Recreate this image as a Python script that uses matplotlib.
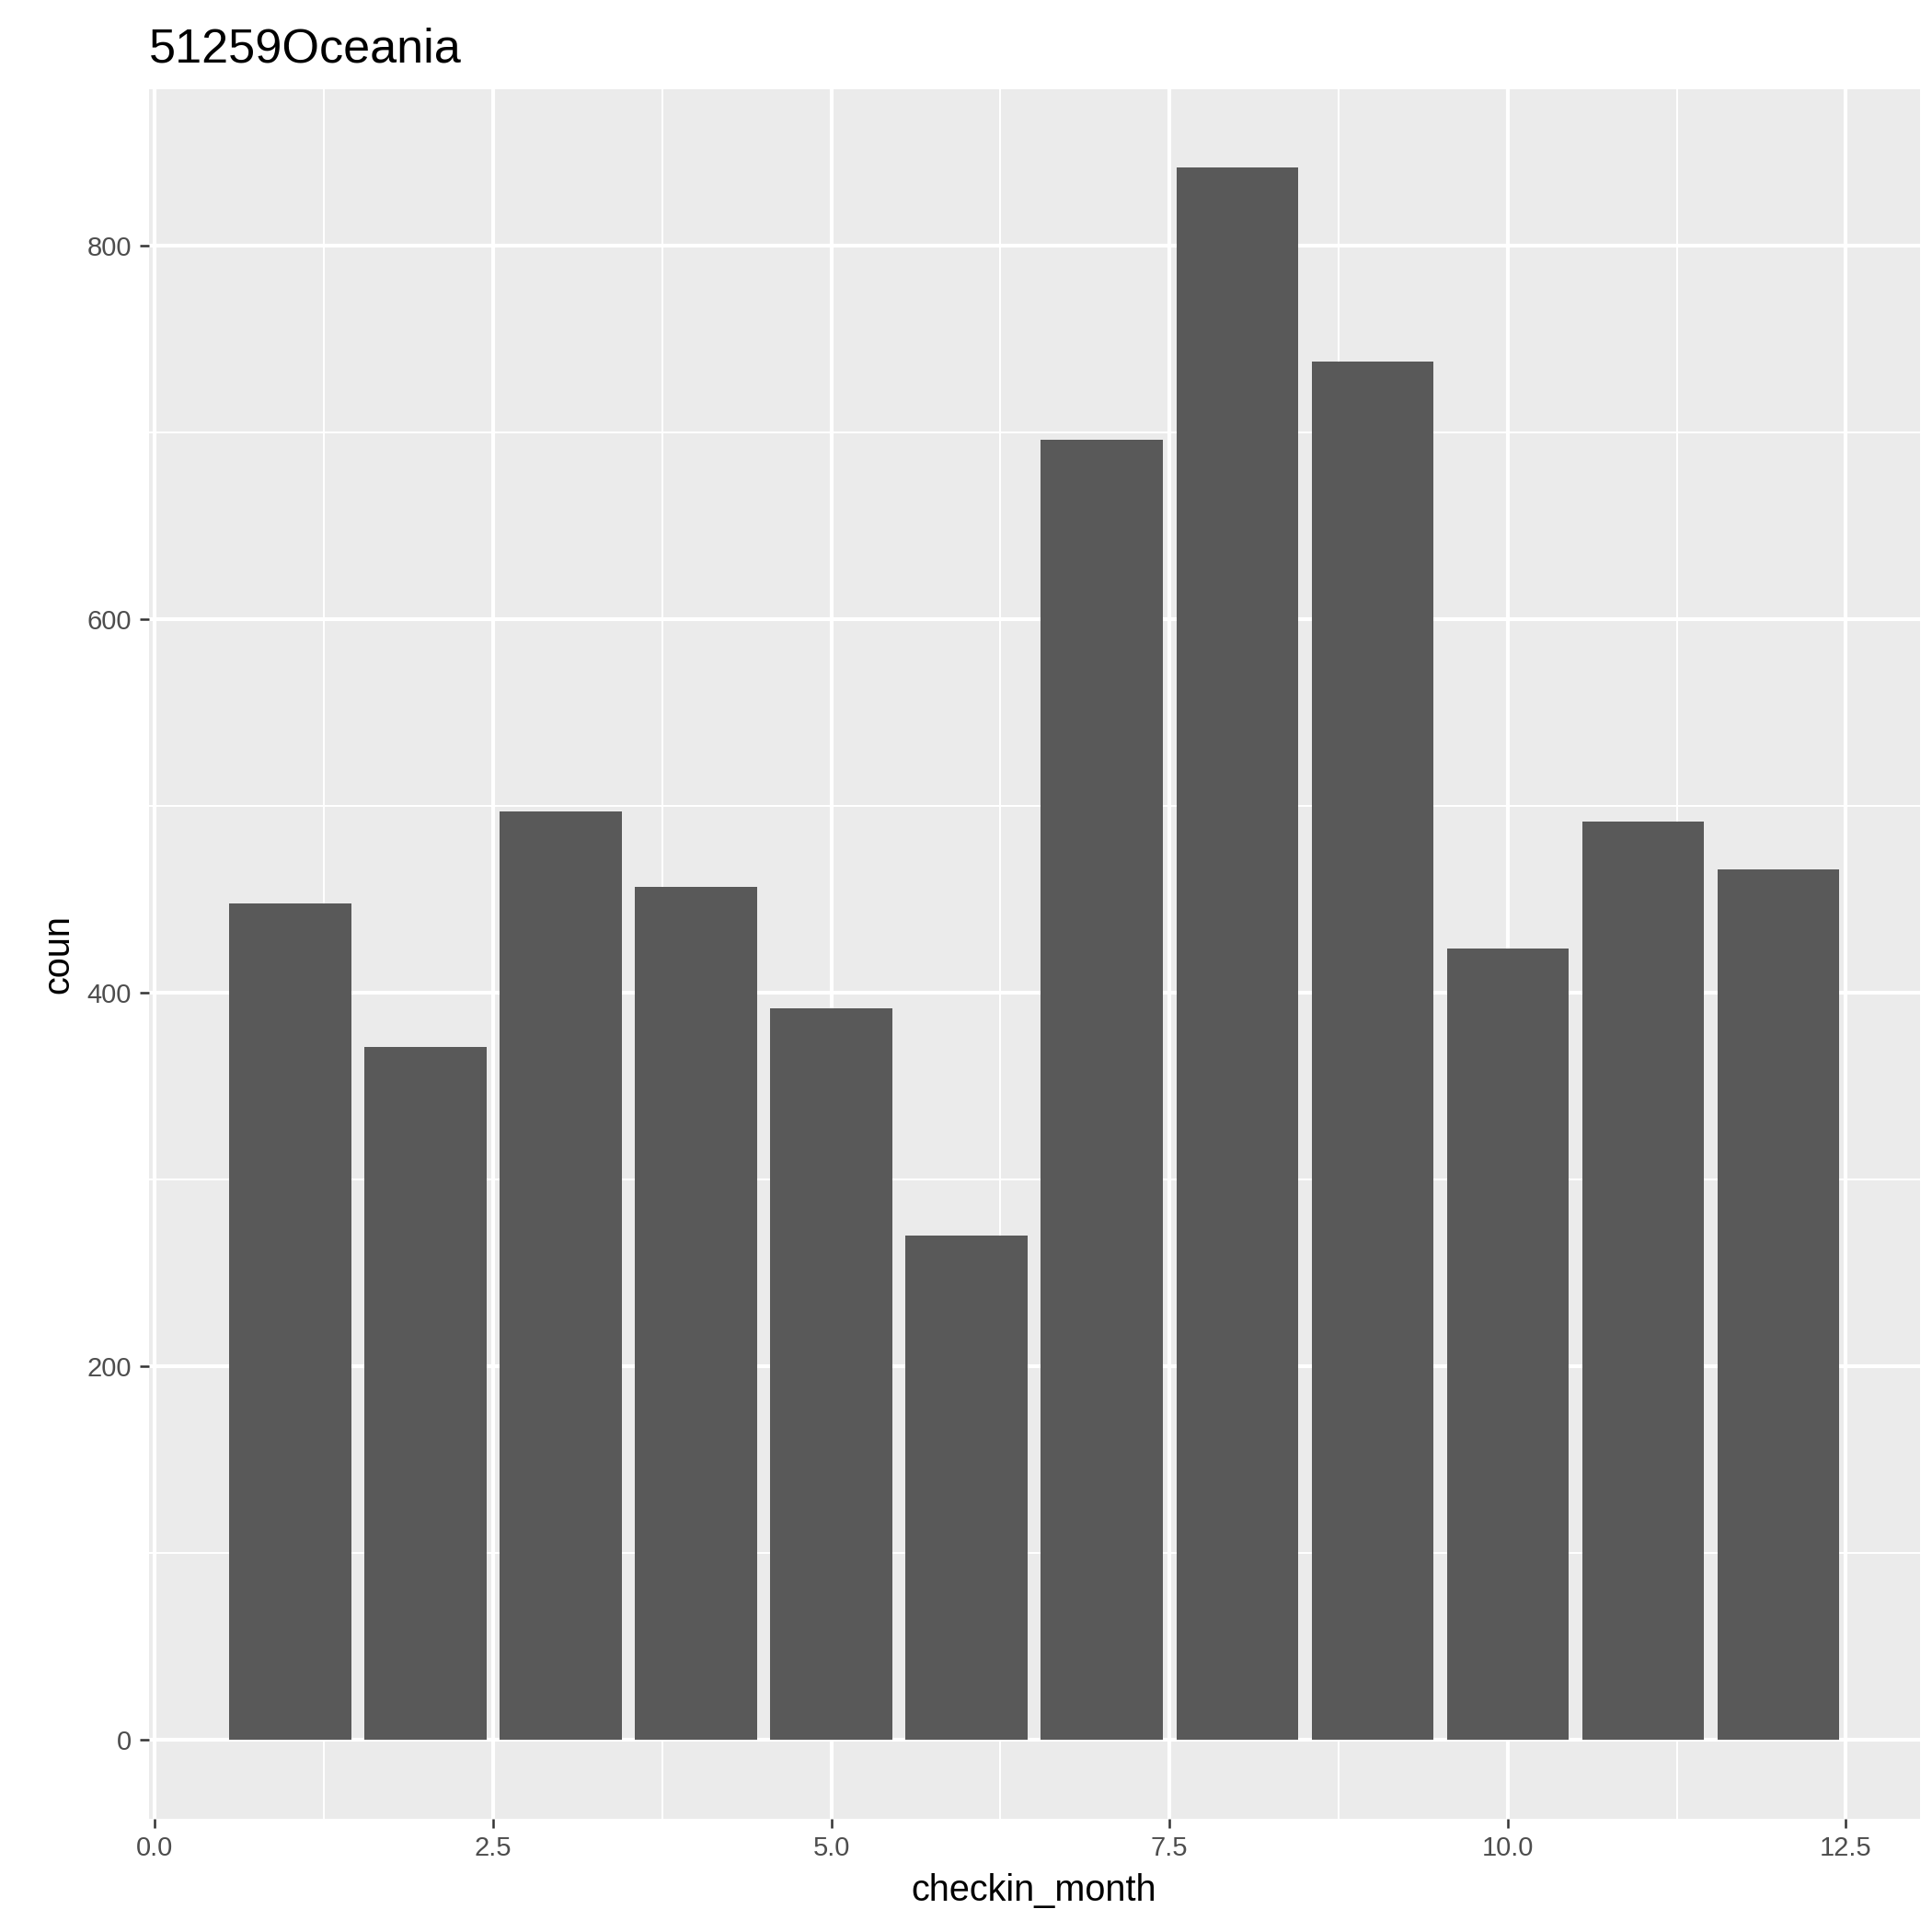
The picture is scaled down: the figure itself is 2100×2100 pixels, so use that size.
import matplotlib
matplotlib.use("Agg")
import matplotlib.pyplot as plt
from matplotlib.ticker import MultipleLocator, FixedLocator

months = [1, 2, 3, 4, 5, 6, 7, 8, 9, 10, 11, 12]
counts = [448, 371, 497, 457, 392, 270, 696, 842, 738, 424, 492, 466]

plt.rcParams['font.family'] = ['Liberation Sans', 'DejaVu Sans']

fig = plt.figure(figsize=(7, 7), dpi=300)
ax = fig.add_axes([0.077, 0.0587, 0.9166, 0.8953])
ax.set_facecolor('#EBEBEB')

ax.bar(months, counts, width=0.9, color='#595959', zorder=3)

ax.set_xlim(-0.045, 13.045)
ax.set_ylim(-42.1, 884.1)
ax.xaxis.set_major_locator(FixedLocator([0, 2.5, 5, 7.5, 10, 12.5]))
ax.xaxis.set_minor_locator(FixedLocator([1.25, 3.75, 6.25, 8.75, 11.25]))
ax.yaxis.set_major_locator(FixedLocator([0, 200, 400, 600, 800]))
ax.yaxis.set_minor_locator(FixedLocator([100, 300, 500, 700]))
ax.set_xticklabels(['0.0', '2.5', '5.0', '7.5', '10.0', '12.5'])
ax.grid(which='major', color='white', linewidth=1.0, zorder=0)
ax.grid(which='minor', color='white', linewidth=0.5, zorder=0)
ax.set_axisbelow(True)
for s in ax.spines.values():
    s.set_visible(False)
ax.tick_params(which='major', length=2.5, width=0.6, color='#333333',
               labelsize=7, labelcolor='#4D4D4D', pad=2)
ax.tick_params(which='minor', length=0)

ax.set_xlabel('checkin_month', fontsize=9.5, labelpad=3)
ax.set_ylabel('coun', fontsize=9.5, labelpad=3)
ax.set_title('51259Oceania', fontsize=12.5, loc='left', pad=7)

fig.savefig('out.png', dpi=300)
